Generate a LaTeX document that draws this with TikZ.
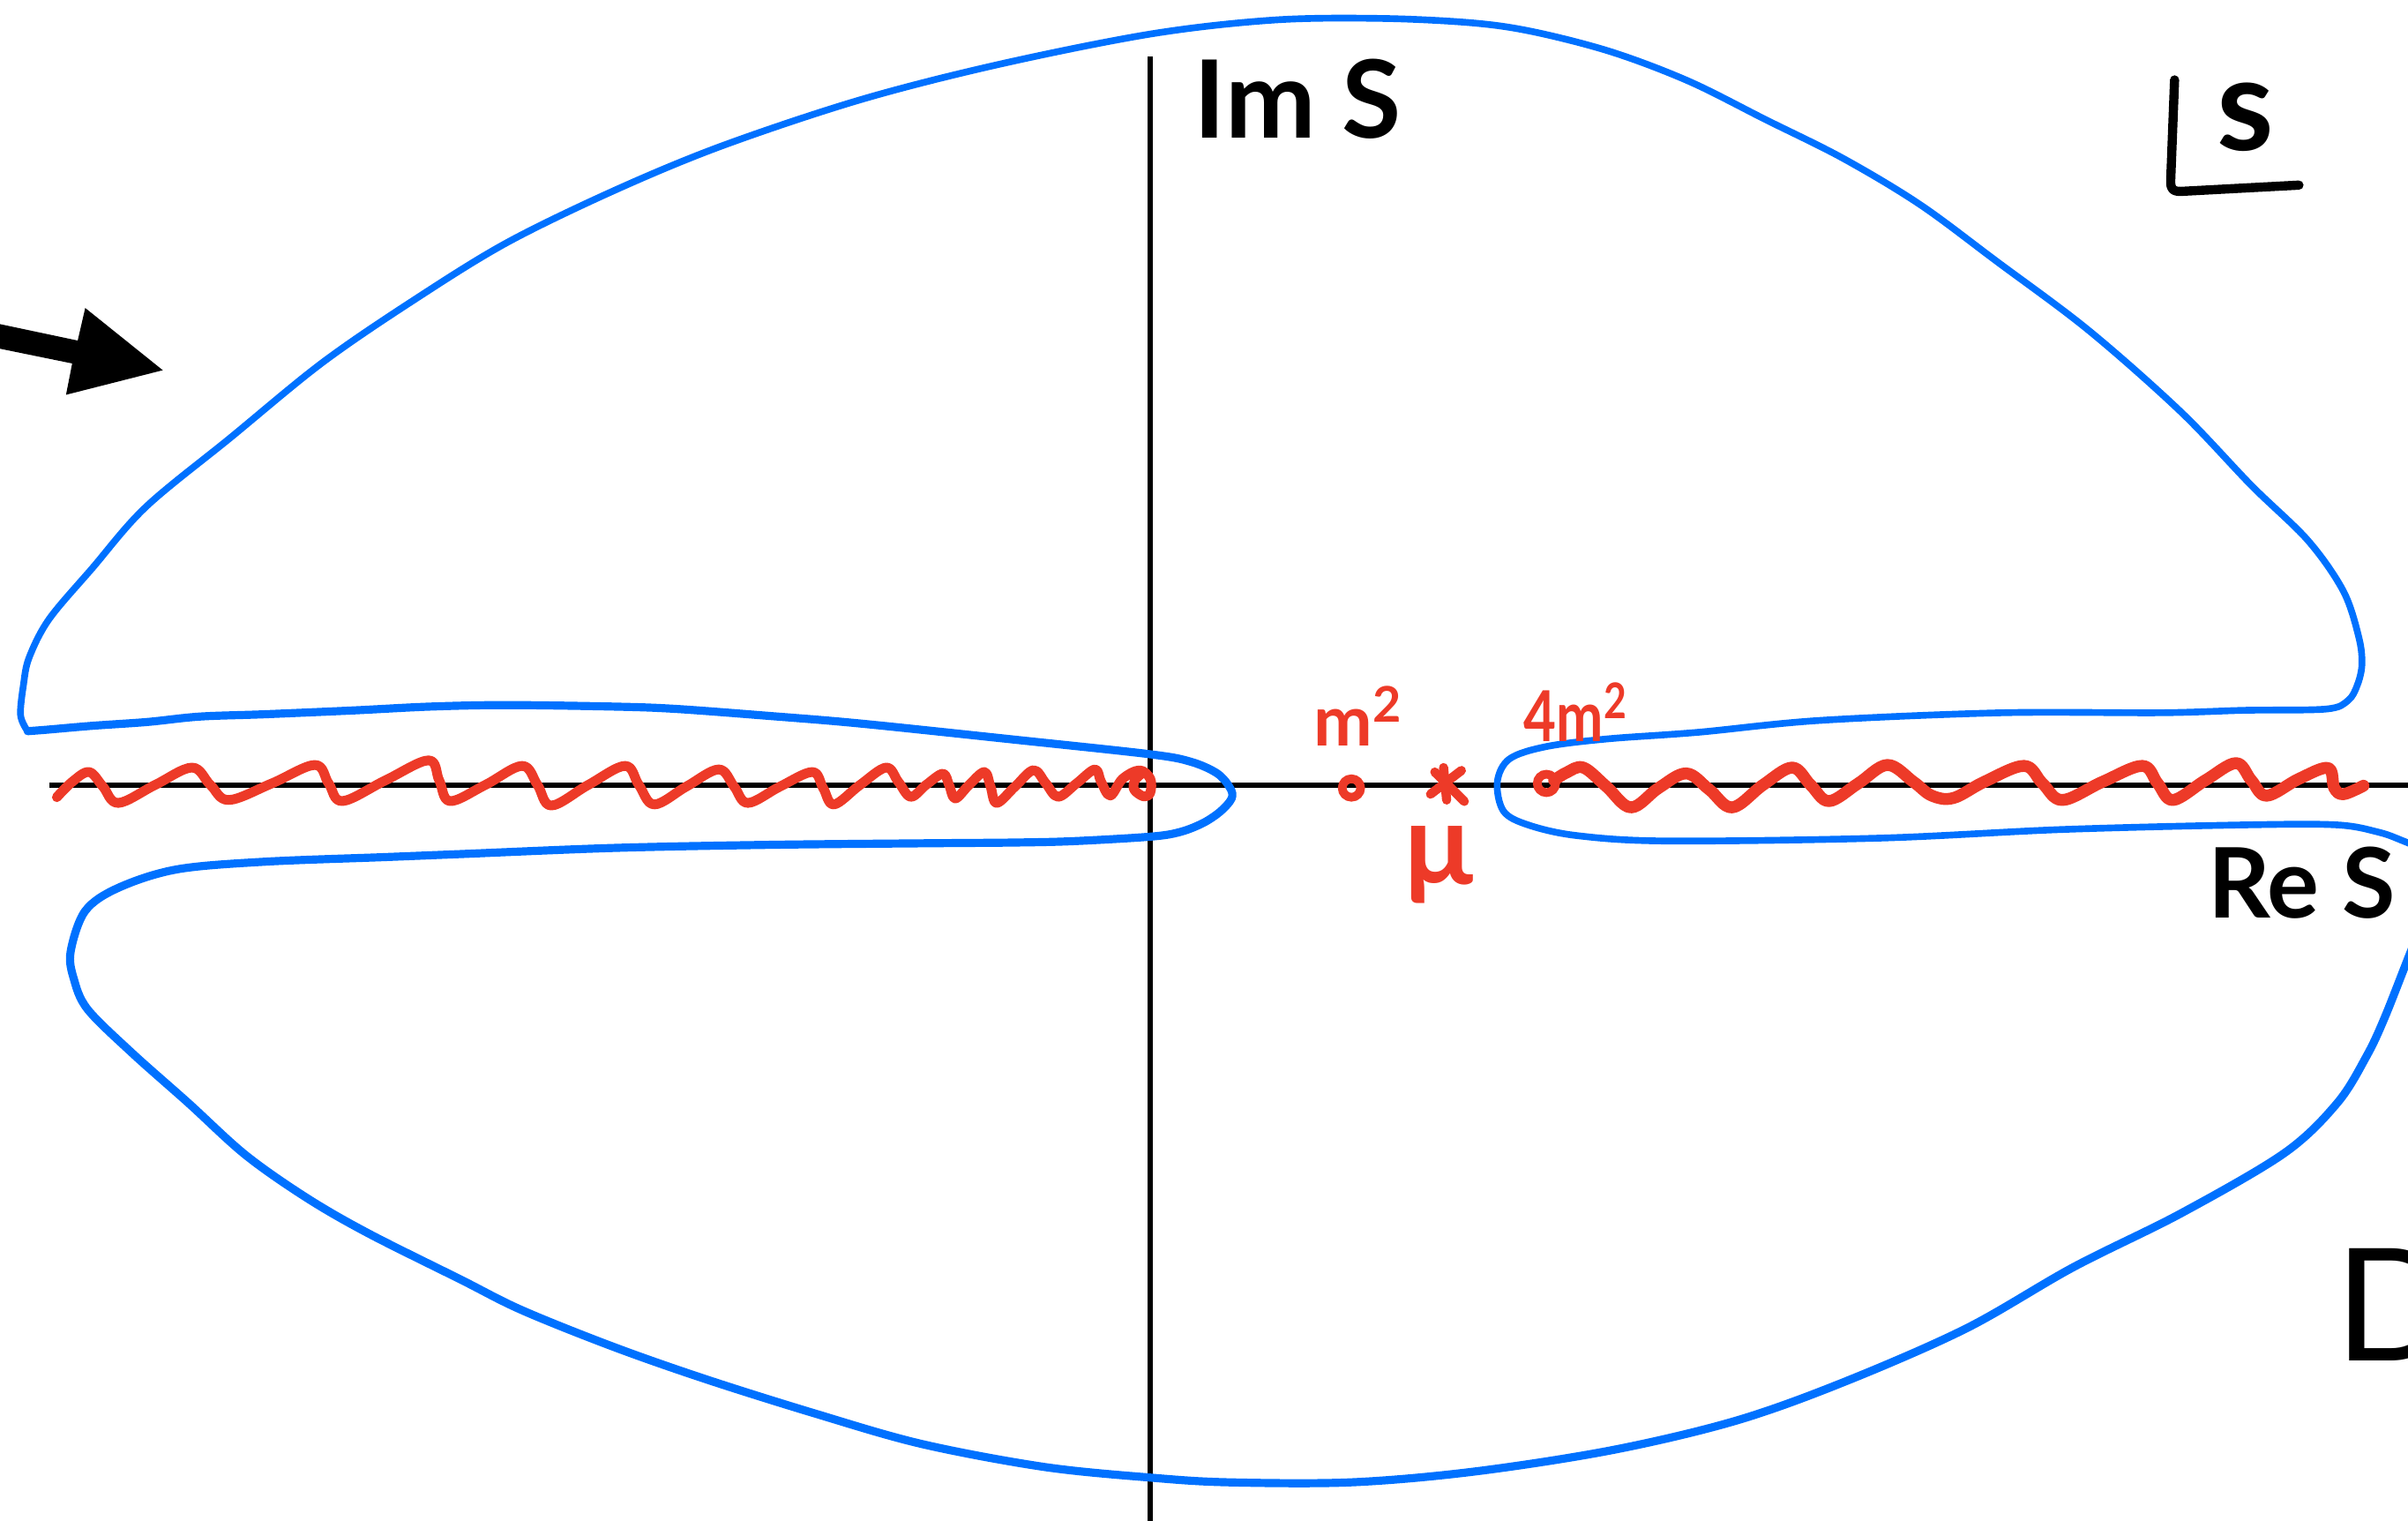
\documentclass[tikz,border=0pt]{standalone}
\usepackage{fontspec}
\setmainfont{Lato}
\usepackage{graphicx}
\definecolor{cblue}{RGB}{0,113,255}
\definecolor{cred}{RGB}{237,58,40}
\begin{document}
\begin{tikzpicture}[x={(0.01cm,0cm)},y={(0cm,-0.01cm)},
  axis/.style={line width=0.95pt, black},
  contour/.style={cblue, line width=#1, line cap=round, line join=round},
  cut/.style={cred, line width=#1, line cap=round, line join=round},
  hand/.style={inner sep=0pt, font=\bfseries\fontsize{20}{24}\selectfont},
  redlbl/.style={inner sep=0pt, text=cred, font=\bfseries\fontsize{13}{15}\selectfont},
  pole/.style={draw=cred, circle, line width=1.6pt, minimum size=0.12cm, inner sep=0pt},
]
\useasboundingbox (0,0) rectangle (1568,990);

% axes
\coordinate (hL) at (32,511);
\coordinate (hR) at (1568,511);
\coordinate (vT) at (749,37);
\coordinate (vB) at (749,990);
\draw[axis] (hL) -- (hR);
\draw[axis] (vT) -- (vB);

% contour: right keyhole + top arc
\draw[contour=1.25pt] plot[smooth, tension=0.55] coordinates {
 (1585,556) (1565,547.5) (1549,541.8) (1521.6,537) (1462,537) (1343,540) (1224.6,545.6)
 (1086,547.5) (1027,544) (995,537) (979,528) (975,509) (983,494) (1007,486) (1047,481)
 (1106,476.7) (1185,469) (1304,464) (1407,464) (1462,462.4) (1514.6,461.6) (1529,456)
 (1535,446) (1538,432.6) (1536,415) (1526,385) (1503,352) (1466,316) (1420,268)
 (1360,215) (1300,170) (1250,133) (1200,103) (1150,78) (1100,53) (1050,34) (1000,21)
 (960,15) (900,12) (830,13) (750,22) (650,42) (560,65) (470,95) (400,124) (330,158)
 (270,195) (210,236) (150,285) (95,330) (60,370) (32,403) (19,428)
 (15.3,445.7) (13.4,465.6) (18,476)};

% contour: left keyhole + bottom arc
\draw[contour=1.5pt] plot[smooth, tension=0.55] coordinates {
 (18,476) (31,475) (60,472.5) (96,470) (130,466.5) (172,465) (230,462.5) (280,460)
 (330,459) (400,460) (440,461.5) (500,466) (560,471) (660.5,481.5) (748.7,491)
 (775.4,495.9) (792.6,503.5) (801,513) (802,519.8) (794.5,528.4) (783,536) (767.8,541.8)
 (748.7,544.7) (698.8,547.6) (660.5,548.5) (600,549) (500,550) (400,552) (300,556)
 (250,558) (172,561) (115,566) (77,578) (55.5,593) (46,619.5) (48,637) (57,657)
 (86,685.5) (122.6,718) (160,752) (200,780) (240,803) (300,833) (340,853) (400,877)
 (460,898) (530,920) (600,940) (680,955) (750,962) (800,965) (880,965) (960,958)
 (1050,944) (1130,925) (1200,900) (1280,865) (1350,825) (1420,790) (1487.6,750.6)
 (1522,718) (1541,687.6) (1552.6,663) (1568,624) (1576,604)};

% left cut
\draw[cut=1.8pt] plot[smooth, tension=0.6] coordinates {
 (37,519) (47,509) (58,502.6) (67,512) (77,522.7) (101,511) (125,499.7) (137,511)
 (149,520.8) (177,510) (205,498) (214,510) (223,521.5) (251,508) (279,495) (286,508)
 (293,521.5) (316,511) (340,498.6) (350,511) (359,524.4) (383,511) (407,498.6)
 (416,511) (426,523.7) (447,512) (468,500.9) (478,512) (487,522.7) (508,512)
 (529,502.6) (536,513) (543,523.7) (560,511) (577,499.7) (585,509) (593,518.7)
 (603,511) (614,503.7) (618,511) (622,519.8) (631,511) (641,502.6) (645,512)
 (649,522.7) (661,512) (673,501.4) (681,510) (689,518.7) (701,510) (713,500.9)
 (717,509) (723,517.9) (731,507) (742,501.5) (749,507) (749,516) (744.8,518.5)
 (738.5,514) (739,508) (743,504)};

% right cut
\draw[cut=2.2pt] plot[smooth, tension=0.6] coordinates {
 (1012,508) (1020,503) (1031,499.7) (1046,512) (1062,525.6) (1080,513) (1098,503.5)
 (1113,514) (1128,525.6) (1148,511) (1167,499.7) (1179,511) (1191,521.5) (1210,510)
 (1229,498) (1246,509) (1258,518) (1272,519.5) (1292,509) (1318,498.6) (1330,510)
 (1343,520.8) (1369,509) (1395,498.6) (1405,510) (1415,520.8) (1436,508) (1456,496.8)
 (1466,508) (1476,518) (1497,507) (1516,500) (1520,513) (1526,517) (1539,511.5)};

% poles and branch point
\node[pole] (pm) at (880,513) {};
\node[pole] (p4m) at (1007,510) {};
\coordinate (mu) at (942,511);
\draw[cut=1.7pt] (934.3,502.6) -- (953.5,521.7);
\draw[cut=1.7pt] (951.6,501.6) -- (931.5,517);
\draw[cut=1.7pt] (940,499.7) -- (942,520.8);

% red labels
\node[redlbl, anchor=base] (lm) at (885,485.5) {m\textsuperscript{2}};
\node[redlbl, anchor=base] (l4m) at (1026.5,483) {\scalebox{0.8}[1]{4m\textsuperscript{2}}};
\node[redlbl, anchor=base, font=\bfseries\fontsize{21}{24}\selectfont] (lmu) at (937,576) {μ};

% black labels
\node[hand] (ims) at (845,64.5) {Im S};
\node[hand, font=\bfseries\fontsize{18}{22}\selectfont] (res) at (1499,575) {Re S};
\node[inner sep=0pt, font=\bfseries\fontsize{24}{28}\selectfont] (sl) at (1462,76) {s};
\draw[line width=1.7pt, line cap=round, line join=round]
  (1416,52) -- (1413.5,117) .. controls (1413,124) and (1416,125) .. (1422,124.5) -- (1497,120.5);

% arrow
\fill (0,211) -- (50.6,221.7) -- (55.5,200.5) -- (106,241) -- (43,257) -- (47,236.6) -- (0,227) -- cycle;

% D
\node[inner sep=0pt, anchor=west, font=\fontsize{29}{34}\selectfont] (dlab) at (1520,849.5) {D};
\end{tikzpicture}
\end{document}
